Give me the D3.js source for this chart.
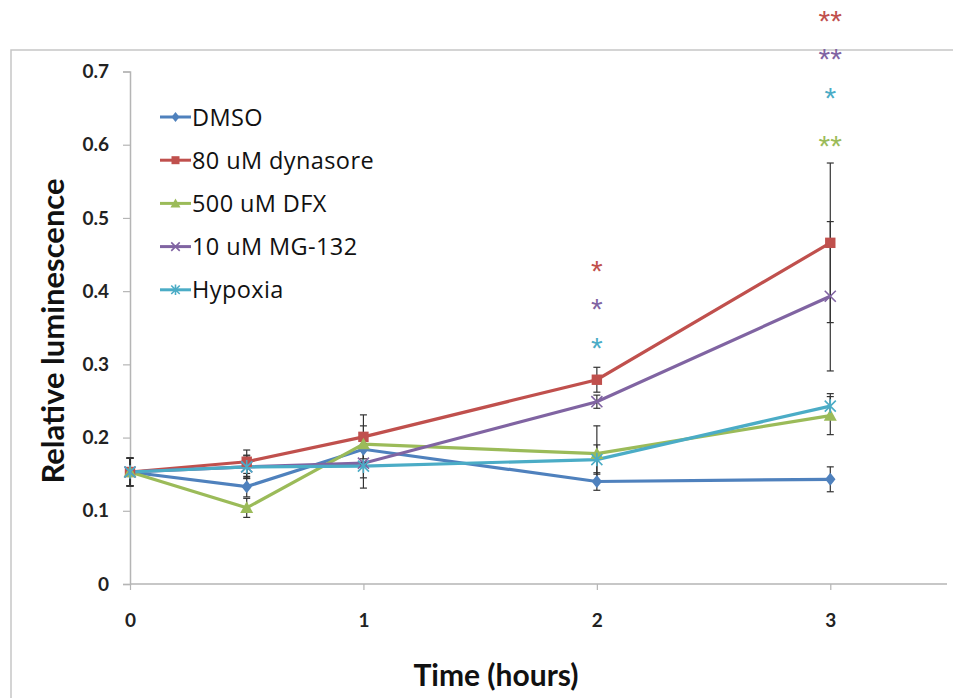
<!DOCTYPE html>
<html>
<head>
<meta charset="utf-8">
<script src="https://cdn.jsdelivr.net/npm/d3@7/dist/d3.min.js"></script>
<style>
  body { margin: 0; background: #fff; }
  svg { display: block; }
</style>
</head>
<body>
<div id="chart"></div>
<script>
// values
const times = [0, 0.5, 1, 2, 3];
const seriesNames = ["DMSO", "80 uM dynasore", "500 uM DFX", "10 uM MG-132", "Hypoxia"];
const dmso     = [0.153, 0.133, 0.184, 0.140, 0.143];
const dynasore = [0.153, 0.167, 0.201, 0.279, 0.466];
const dfx      = [0.153, 0.104, 0.191, 0.178, 0.230];
const mg132    = [0.153, 0.160, 0.165, 0.249, 0.393];
const hypoxia  = [0.153, 0.160, 0.161, 0.170, 0.243];
const dmsoErr     = [0.019, 0.014, 0.020, 0.012, 0.017];
const dynasoreErr = [0.019, 0.016, 0.030, 0.017, 0.109];
const dfxErr      = [0.019, 0.013, 0.025, 0.038, 0.026];
const mg132Err    = [0.019, 0.016, 0.020, 0.009, 0.102];
const hypoxiaErr  = [0.019, 0.015, 0.030, 0.020, 0.017];
const yTicks = [0, 0.1, 0.2, 0.3, 0.4, 0.5, 0.6, 0.7];
const xTicks = [0, 1, 2, 3];
// significance stars: [time, level, text, series index]
const stars = [
  [2, 0.434, "*", 1], [2, 0.383, "*", 3], [2, 0.329, "*", 4],
  [3, 0.776, "**", 1], [3, 0.724, "**", 3], [3, 0.671, "*", 4], [3, 0.605, "**", 2]
];

const colors = ["#4f81bd", "#c0504d", "#9bbb59", "#8064a2", "#4bacc6"];
const markers = ["diamond", "square", "triangle", "cross", "star"];
const allVals = [dmso, dynasore, dfx, mg132, hypoxia];
const allErr = [dmsoErr, dynasoreErr, dfxErr, mg132Err, hypoxiaErr];

const W = 953, H = 698;
const svg = d3.select("#chart").append("svg").attr("width", W).attr("height", H);

// outer chart frame (runs off the right and bottom)
svg.append("path").attr("d", "M11," + H + "V50H" + W)
  .attr("fill", "none").attr("stroke", "#c6c6c6").attr("stroke-width", 1.5);

const x = d3.scaleLinear().domain([0, 3.5]).range([130, 947]);
const y = d3.scaleLinear().domain([0, 0.7]).range([584, 71.5]);

const axisFont = "Lato, 'Open Sans', sans-serif";

const yAxis = svg.append("g").attr("transform", "translate(130,0)")
  .call(d3.axisLeft(y).tickValues(yTicks).tickSize(7).tickPadding(14).tickFormat(d => d === 0 ? "0" : d3.format(".1f")(d)));
const xAxis = svg.append("g").attr("transform", "translate(0,584)")
  .call(d3.axisBottom(x).tickValues(xTicks).tickSize(6).tickPadding(24).tickFormat(d3.format("d")));
[yAxis, xAxis].forEach(g => {
  g.select(".domain").attr("stroke", "#b5b5b5").attr("stroke-width", 1.5);
  g.selectAll(".tick line").attr("stroke", "#b5b5b5").attr("stroke-width", 1.2);
  g.selectAll(".tick text").attr("fill", "#222").attr("font-family", axisFont)
    .attr("font-weight", "bold").attr("font-size", 19);
});
xAxis.select(".domain").attr("d", "M130,0H947");

svg.append("text").attr("transform", "translate(64,331) rotate(-90)")
  .attr("text-anchor", "middle").attr("font-family", axisFont).attr("font-weight", "bold")
  .attr("font-size", 31).attr("fill", "#111").text("Relative luminescence");
svg.append("text").attr("x", 496).attr("y", 686)
  .attr("text-anchor", "middle").attr("font-family", axisFont).attr("font-weight", "bold")
  .attr("font-size", 30).attr("fill", "#111").text("Time (hours)");

function drawMarker(g, type, color, cx, cy, s) {
  if (type === "diamond") {
    g.append("path").attr("d", `M${cx},${cy - s}L${cx + s * 0.8},${cy}L${cx},${cy + s}L${cx - s * 0.8},${cy}Z`).attr("fill", color);
  } else if (type === "square") {
    g.append("rect").attr("x", cx - s * 0.8).attr("y", cy - s * 0.8).attr("width", s * 1.6).attr("height", s * 1.6).attr("fill", color);
  } else if (type === "triangle") {
    g.append("path").attr("d", `M${cx},${cy - s}L${cx + s},${cy + s * 0.8}L${cx - s},${cy + s * 0.8}Z`).attr("fill", color);
  } else {
    const d = s * 0.85;
    let p = `M${cx - d},${cy - d}L${cx + d},${cy + d}M${cx - d},${cy + d}L${cx + d},${cy - d}`;
    if (type === "star") p += `M${cx},${cy - s * 1.05}V${cy + s * 1.05}`;
    g.append("path").attr("d", p).attr("stroke", color).attr("stroke-width", 1.6).attr("fill", "none");
  }
}

const line = d3.line().x(d => x(d[0])).y(d => y(d[1]));

// series lines
allVals.forEach((vals, i) => {
  svg.append("path").datum(times.map((t, k) => [t, vals[k]]))
    .attr("d", line).attr("fill", "none").attr("stroke", colors[i]).attr("stroke-width", 3.2);
});

// error bars
const errG = svg.append("g").attr("stroke", "#333").attr("stroke-width", 1.2);
allVals.forEach((vals, i) => {
  times.forEach((t, k) => {
    const cx = x(t), lo = y(vals[k] - allErr[i][k]), hi = y(vals[k] + allErr[i][k]);
    errG.append("line").attr("x1", cx).attr("x2", cx).attr("y1", lo).attr("y2", hi);
    errG.append("line").attr("x1", cx - 3.5).attr("x2", cx + 3.5).attr("y1", lo).attr("y2", lo);
    errG.append("line").attr("x1", cx - 3.5).attr("x2", cx + 3.5).attr("y1", hi).attr("y2", hi);
  });
});

// markers
allVals.forEach((vals, i) => {
  const g = svg.append("g");
  times.forEach((t, k) => drawMarker(g, markers[i], colors[i], x(t), y(vals[k]), 6.5));
});

// stars
svg.selectAll(".star").data(stars).join("text")
  .attr("x", d => x(d[0])).attr("y", d => y(d[1]) + 15)
  .attr("text-anchor", "middle").attr("font-family", "'Liberation Sans', Arial, sans-serif")
  .attr("font-size", 30).attr("fill", d => colors[d[3]]).text(d => d[2]);

// legend
const legend = svg.append("g").attr("transform", "translate(160,117)");
seriesNames.forEach((name, i) => {
  const row = legend.append("g").attr("transform", `translate(0,${i * 43.2})`);
  row.append("line").attr("x1", 0).attr("x2", 31).attr("y1", 0).attr("y2", 0)
    .attr("stroke", colors[i]).attr("stroke-width", 3);
  drawMarker(row, markers[i], colors[i], 15.5, 0, 5);
  row.append("text").attr("x", 32).attr("y", 8.5).attr("font-family", "'Open Sans', sans-serif")
    .attr("font-size", 23.5).attr("letter-spacing", 0.4).attr("fill", "#111").text(name);
});
</script>
</body>
</html>
